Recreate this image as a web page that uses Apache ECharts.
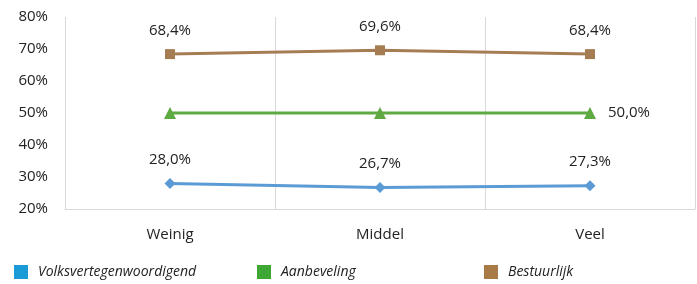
<!DOCTYPE html>
<html lang="nl">
<head>
    <meta charset="utf-8">
    <script src="https://cdn.jsdelivr.net/npm/echarts@6/dist/echarts.min.js"></script>
    <style>
        html, body { margin: 0; padding: 0; background: #fff; }
        #chart { width: 697px; height: 284px; }
    </style>
</head>
<body>
    <div id="chart"></div>
    <script>
        // data
        const categories = ['Weinig', 'Middel', 'Veel']
        const volks = [28.0, 26.7, 27.3]
        const aanbeveling = [50.0, 50.0, 50.0]
        const bestuurlijk = [68.4, 69.6, 68.4]
        const yTicks = { min: 20, max: 80, interval: 10 }

        const font = '"Open Sans", "Noto Sans", sans-serif'
        const fmt = p => p.value.toFixed(1).replace('.', ',') + '%'

        function legend(name, left, color) {
            return {
                left: left,
                top: 260,
                itemWidth: 14,
                itemHeight: 14,
                icon: 'rect',
                data: [{ name: name, itemStyle: { color: color } }],
                textStyle: { fontFamily: font, fontSize: 14, fontStyle: 'italic', color: '#222', padding: [0, 0, 0, 5] }
            }
        }

        let chart = echarts.init(document.querySelector('#chart'))
        chart.setOption({
            animation: false,
            textStyle: { fontFamily: font },
            grid: { left: 65, right: 2, top: 17, bottom: 75 },
            legend: [
                legend('Volksvertegenwoordigend', 9, '#1a9ad6'),
                legend('Aanbeveling', 252, '#3ea736'),
                legend('Bestuurlijk', 479, '#a87a48')
            ],
            xAxis: {
                type: 'category',
                data: categories,
                boundaryGap: true,
                axisLine: { lineStyle: { color: '#d9d9d9' } },
                axisTick: { show: false },
                splitLine: { show: true, lineStyle: { color: '#d9d9d9' } },
                axisLabel: { fontSize: 15, color: '#222', margin: 18 }
            },
            yAxis: {
                type: 'value',
                min: yTicks.min,
                max: yTicks.max,
                interval: yTicks.interval,
                axisLine: { show: false },
                splitLine: { show: false },
                axisLabel: { fontSize: 15, color: '#222', margin: 17, formatter: '{value}%' }
            },
            series: [
                {
                    name: 'Volksvertegenwoordigend',
                    type: 'line',
                    data: volks,
                    symbol: 'diamond',
                    symbolSize: 11,
                    itemStyle: { color: '#5b9bd5' },
                    lineStyle: { width: 3, color: '#5b9bd5' },
                    label: { show: true, position: 'top', distance: 11, fontSize: 15, color: '#222', formatter: fmt }
                },
                {
                    name: 'Aanbeveling',
                    type: 'line',
                    data: aanbeveling,
                    symbol: 'triangle',
                    symbolSize: 12,
                    itemStyle: { color: '#5fa943' },
                    lineStyle: { width: 3, color: '#5fa943' },
                    label: {
                        show: true, position: 'right', distance: 12, fontSize: 15, color: '#222',
                        formatter: p => p.dataIndex === 2 ? fmt(p) : ''
                    }
                },
                {
                    name: 'Bestuurlijk',
                    type: 'line',
                    data: bestuurlijk,
                    symbol: 'rect',
                    symbolSize: 10,
                    itemStyle: { color: '#a67d52' },
                    lineStyle: { width: 3, color: '#a67d52' },
                    label: { show: true, position: 'top', distance: 11, fontSize: 15, color: '#222', formatter: fmt }
                }
            ]
        })
    </script>
</body>
</html>
